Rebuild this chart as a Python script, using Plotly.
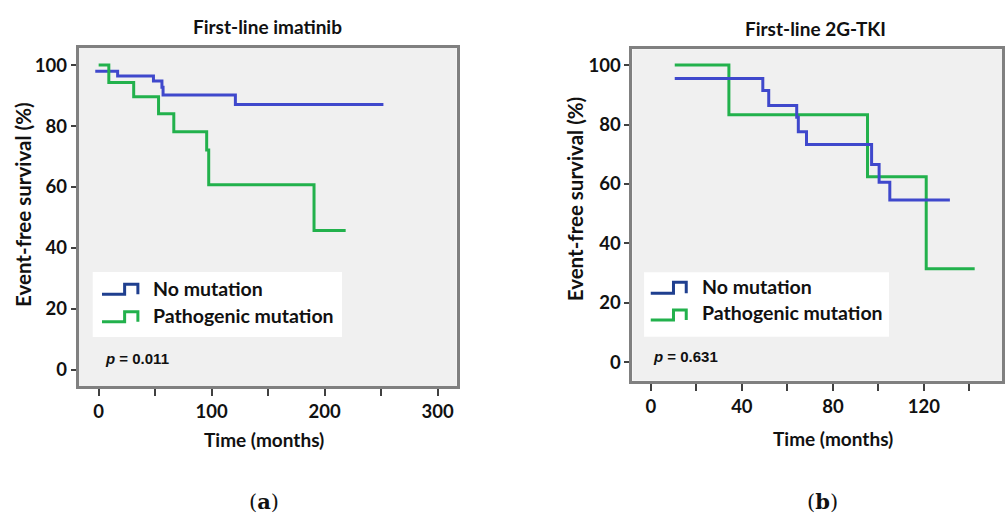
import plotly.graph_objects as go

# ---------------- data ----------------
# Panel (a): First-line imatinib
a_nomut_time = [-3, 16.8, 48.5, 56, 57, 121, 252]
a_nomut_surv = [98.0, 96.4, 94.8, 92.7, 90.2, 87.1, 87.1]
a_path_time = [0, 9, 31, 53, 66.5, 95.6, 97.4, 190.6, 218.6]
a_path_surv = [100, 94.3, 89.6, 84.0, 78.1, 72.1, 60.7, 45.7, 45.7]

# Panel (b): First-line 2G-TKI
b_nomut_time = [10.5, 49.2, 51.8, 64.1, 64.8, 68.4, 97.0, 100.3, 105.0, 131.4]
b_nomut_surv = [95.5, 91.4, 86.4, 82.4, 77.6, 73.3, 66.5, 60.6, 54.6, 54.6]
b_path_time = [10.5, 34.3, 95.2, 121.0, 142.3]
b_path_surv = [100, 83.3, 62.4, 31.5, 31.5]

a_xticks = [0, 50, 100, 150, 200, 250, 300]
a_xticklabels = ["0", "", "100", "", "200", "", "300"]
b_xticks = [0, 20, 40, 60, 80, 100, 120, 140]
b_xticklabels = ["0", "", "40", "", "80", "", "120", ""]
yticks = [0, 20, 40, 60, 80, 100]

series_names = ["No mutation", "Pathogenic mutation"]
titles = ["First-line imatinib", "First-line 2G-TKI"]
pvalues = ["0.011", "0.631"]
panel_labels = ["a", "b"]

# ---------------- style ----------------
W, H = 1005, 513
BLUE = "#3f48cc"
GREEN = "#22b14c"
LEG_BLUE = "#1f3f8f"
FRAME = "#808080"
BG = "#f0f0f0"
FONT = "Lato"


def px(x):
    return x / W


def py(y):
    return 1 - y / H


fig = go.Figure()

fig.add_trace(go.Scatter(x=a_nomut_time, y=a_nomut_surv, mode="lines", line_shape="hv",
                         line=dict(color=BLUE, width=3), name=series_names[0],
                         xaxis="x", yaxis="y", showlegend=False))
fig.add_trace(go.Scatter(x=a_path_time, y=a_path_surv, mode="lines", line_shape="hv",
                         line=dict(color=GREEN, width=3), name=series_names[1],
                         xaxis="x", yaxis="y", showlegend=False))
fig.add_trace(go.Scatter(x=b_path_time, y=b_path_surv, mode="lines", line_shape="hv",
                         line=dict(color=GREEN, width=3), name=series_names[1],
                         xaxis="x2", yaxis="y2", showlegend=False))
fig.add_trace(go.Scatter(x=b_nomut_time, y=b_nomut_surv, mode="lines", line_shape="hv",
                         line=dict(color=BLUE, width=3), name=series_names[0],
                         xaxis="x2", yaxis="y2", showlegend=False))

# panel pixel boxes: (left, top, right, bottom)
boxes = [(79, 48, 458, 386), (634.3, 49.3, 1005, 380.7)]

axis_common = dict(showgrid=False, zeroline=False, showline=True, mirror=True,
                   linecolor=FRAME, linewidth=3, ticks="outside", tickcolor="#404040",
                   tickwidth=2,
                   tickfont=dict(family=FONT, size=18.5, color="#111111", weight="bold"))

la, ta, ra, ba = boxes[0]
lb, tb, rb, bb = boxes[1]
fig.update_layout(
    xaxis=dict(domain=[px(la), px(ra)], range=[-17.6, 316.8], tickvals=a_xticks,
               ticktext=a_xticklabels, ticklen=7, anchor="y", **axis_common),
    yaxis=dict(domain=[py(ba), py(ta)], range=[-5.3, 105.6], tickvals=yticks,
               ticklen=5, anchor="x", **axis_common),
    xaxis2=dict(domain=[px(lb), px(rb)], range=[-8.1, 154.3], tickvals=b_xticks,
                ticktext=b_xticklabels, ticklen=7, anchor="y2", **axis_common),
    yaxis2=dict(domain=[py(bb), py(tb)], range=[-6.2, 105.3], tickvals=yticks,
                ticklen=5, anchor="x2", **axis_common),
    plot_bgcolor=BG, paper_bgcolor="white",
    width=W, height=H, margin=dict(l=0, r=0, t=0, b=0),
    showlegend=False,
)

shapes = []
annotations = []

# per-panel decorations (pixel coordinates)
panels = [
    dict(title_xy=(268, 26), xt_xy=(265, 439), yt_xy=(23, 204), lab_xy=(265, 501),
         leg=(93, 272, 343, 337), icon_x=(102.3, 125, 138.3),
         icon_y=[(294.3, 284.3), (321.7, 311.7)], text_x=151.7, text_y=[288, 315],
         p_xy=(103.3, 358)),
    dict(title_xy=(818, 28), xt_xy=(835, 438), yt_xy=(577, 199), lab_xy=(825, 501),
         leg=(646, 272.3, 891.7, 336.7), icon_x=(652.7, 675.5, 688.3),
         icon_y=[(293.3, 282.3), (320, 310)], text_x=701.7, text_y=[286.7, 312.7],
         p_xy=(653.3, 356.7)),
]

for i, p in enumerate(panels):
    annotations.append(dict(x=px(p["title_xy"][0]), y=py(p["title_xy"][1]), xref="paper", yref="paper",
                            text="<b>%s</b>" % titles[i], showarrow=False,
                            font=dict(family=FONT, size=19, color="#111111"),
                            xanchor="center", yanchor="middle"))
    annotations.append(dict(x=px(p["xt_xy"][0]), y=py(p["xt_xy"][1]), xref="paper", yref="paper",
                            text="<b>Time (months)</b>", showarrow=False,
                            font=dict(family=FONT, size=19, color="#111111"),
                            xanchor="center", yanchor="middle"))
    annotations.append(dict(x=px(p["yt_xy"][0]), y=py(p["yt_xy"][1]), xref="paper", yref="paper",
                            text="<b>Event-free survival (%)</b>", showarrow=False, textangle=-90,
                            font=dict(family=FONT, size=20.5, color="#111111"),
                            xanchor="center", yanchor="middle"))
    annotations.append(dict(x=px(p["lab_xy"][0]), y=py(p["lab_xy"][1]), xref="paper", yref="paper",
                            text="(<b>%s</b>)" % panel_labels[i], showarrow=False,
                            font=dict(family="DejaVu Serif", size=21, color="#111111"),
                            xanchor="center", yanchor="middle"))
    l, t, r, b = p["leg"]
    shapes.append(dict(type="rect", xref="paper", yref="paper", x0=px(l), x1=px(r),
                       y0=py(b), y1=py(t), fillcolor="white", line=dict(width=0), layer="above"))
    x0, xm, x1 = p["icon_x"]
    for j, col in enumerate([LEG_BLUE, GREEN]):
        ylo, yhi = p["icon_y"][j]
        path = "M %f %f L %f %f L %f %f L %f %f L %f %f" % (
            px(x0), py(ylo), px(xm), py(ylo), px(xm), py(yhi), px(x1), py(yhi), px(x1), py(ylo))
        shapes.append(dict(type="path", xref="paper", yref="paper", path=path,
                           line=dict(color=col, width=3), layer="above"))
        annotations.append(dict(x=px(p["text_x"]), y=py(p["text_y"][j]), xref="paper", yref="paper",
                                text="<b>%s</b>" % series_names[j], showarrow=False,
                                font=dict(family=FONT, size=19.5, color="#111111"),
                                xanchor="left", yanchor="middle"))
    annotations.append(dict(x=px(p["p_xy"][0]), y=py(p["p_xy"][1]), xref="paper", yref="paper",
                            text="<b><i>p</i> = %s</b>" % pvalues[i], showarrow=False,
                            font=dict(family="Liberation Sans", size=15, color="#111111"),
                            xanchor="left", yanchor="middle"))

fig.update_layout(shapes=shapes, annotations=annotations)
fig.write_html("out.html", config={"displayModeBar": False},
               post_script="document.body.style.margin='0';document.body.style.padding='0';")
